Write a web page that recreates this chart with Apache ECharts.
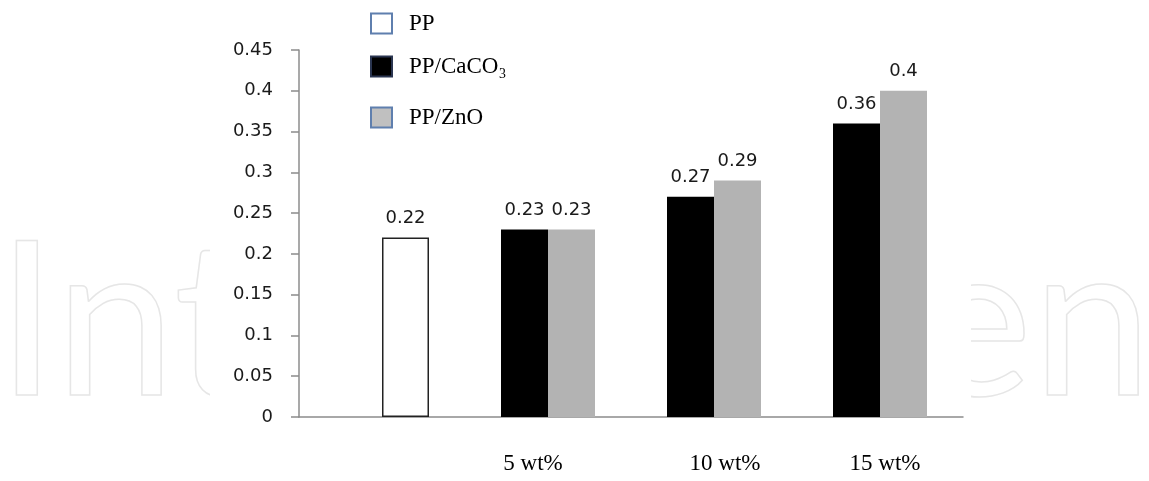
<!DOCTYPE html>
<html>
<head>
<meta charset="utf-8">
<script src="https://cdn.jsdelivr.net/npm/echarts@6/dist/echarts.min.js"></script>
<style>html,body{margin:0;padding:0;background:#fff;}#c{width:1149px;height:481px;}</style>
</head>
<body>
<div id="c"></div>
<script>
const categories = ['', '5 wt%', '10 wt%', '15 wt%'];
const ppValues = [0.22, '-', '-', '-'];
const caco3Values = ['-', 0.23, 0.27, 0.36];
const znoValues = ['-', 0.23, 0.29, 0.4];
const yTicks = { min: 0, max: 0.45, interval: 0.05 };
const seriesNames = ['PP', 'PP/CaCO\u2083', 'PP/ZnO'];

const chart = echarts.init(document.getElementById('c'));
const labelStyle = {
  show: true, position: 'top', distance: 10,
  fontFamily: 'DejaVu Sans', fontSize: 18, color: '#1a1a1a',
  formatter: p => String(p.value)
};
const legendText = { fontFamily: 'Liberation Serif', fontSize: 23, color: '#000', padding: [0, 0, 0, 12] };
function mkLegend(name, top, fill, border) {
  return {
    left: 370, top: top, orient: 'vertical', icon: 'rect', padding: 0,
    itemWidth: 21, itemHeight: 20, textStyle: legendText,
    data: [{ name: name, itemStyle: { color: fill, borderColor: border, borderWidth: 2 } }],
    selectedMode: false
  };
}
chart.setOption({
  animation: false,
  backgroundColor: '#fff',
  graphic: [
    { type: 'text', z: -10, left: -4, top: 217,
      style: { text: 'Int', font: '215px Lato', fill: 'transparent', stroke: '#e6e6e6', lineWidth: 1.5 } },
    { type: 'text', z: -10, right: -4, top: 217,
      style: { text: 'en', font: '215px Lato', fill: 'transparent', stroke: '#e6e6e6', lineWidth: 1.5 } },
    { type: 'rect', z: -5, shape: { x: 210, y: 0, width: 761, height: 481 }, style: { fill: '#fff' } }
  ],
  legend: [
    mkLegend(seriesNames[0], 12, '#fff', '#5f7fae'),
    mkLegend(seriesNames[1], 55, '#000', '#2a3550'),
    mkLegend(seriesNames[2], 106, '#c0c0c0', '#5f7fae')
  ],
  grid: { left: 299, right: 186, top: 50, bottom: 64 },
  xAxis: {
    type: 'category', data: categories,
    axisLine: { lineStyle: { color: '#8c8c8c', width: 1.5 } },
    axisTick: { show: false },
    axisLabel: {
      margin: 35, color: '#000', fontFamily: 'Liberation Serif', fontSize: 23,
      formatter: (v, i) => '{c' + i + '|' + v + '}',
      rich: {
        c0: {}, c1: { padding: [0, 30, 0, 0] }, c2: { padding: [0, 0, 0, 22] }, c3: { padding: [0, 0, 0, 10] }
      }
    }
  },
  yAxis: {
    type: 'value', min: yTicks.min, max: yTicks.max, interval: yTicks.interval,
    axisLine: { show: true, lineStyle: { color: '#8c8c8c', width: 1.5 } },
    axisTick: { show: true, length: 8, lineStyle: { color: '#8c8c8c', width: 1.5 } },
    splitLine: { show: false },
    axisLabel: { margin: 26, color: '#1a1a1a', fontFamily: 'DejaVu Sans', fontSize: 18,
      formatter: v => String(Math.round(v * 100) / 100) }
  },
  series: [
    { name: seriesNames[1], type: 'bar', stack: 'left', data: caco3Values, barWidth: 47, barGap: '0%',
      itemStyle: { color: '#000' }, label: labelStyle },
    { name: seriesNames[0], type: 'bar', stack: 'right', data: ppValues, barWidth: 47, barGap: '0%',
      itemStyle: { color: '#fff', borderColor: '#222', borderWidth: 1.5 }, label: labelStyle },
    { name: seriesNames[2], type: 'bar', stack: 'right', data: znoValues, barWidth: 47, barGap: '0%',
      itemStyle: { color: '#b3b3b3' }, label: labelStyle }
  ]
});
</script>
</body>
</html>
